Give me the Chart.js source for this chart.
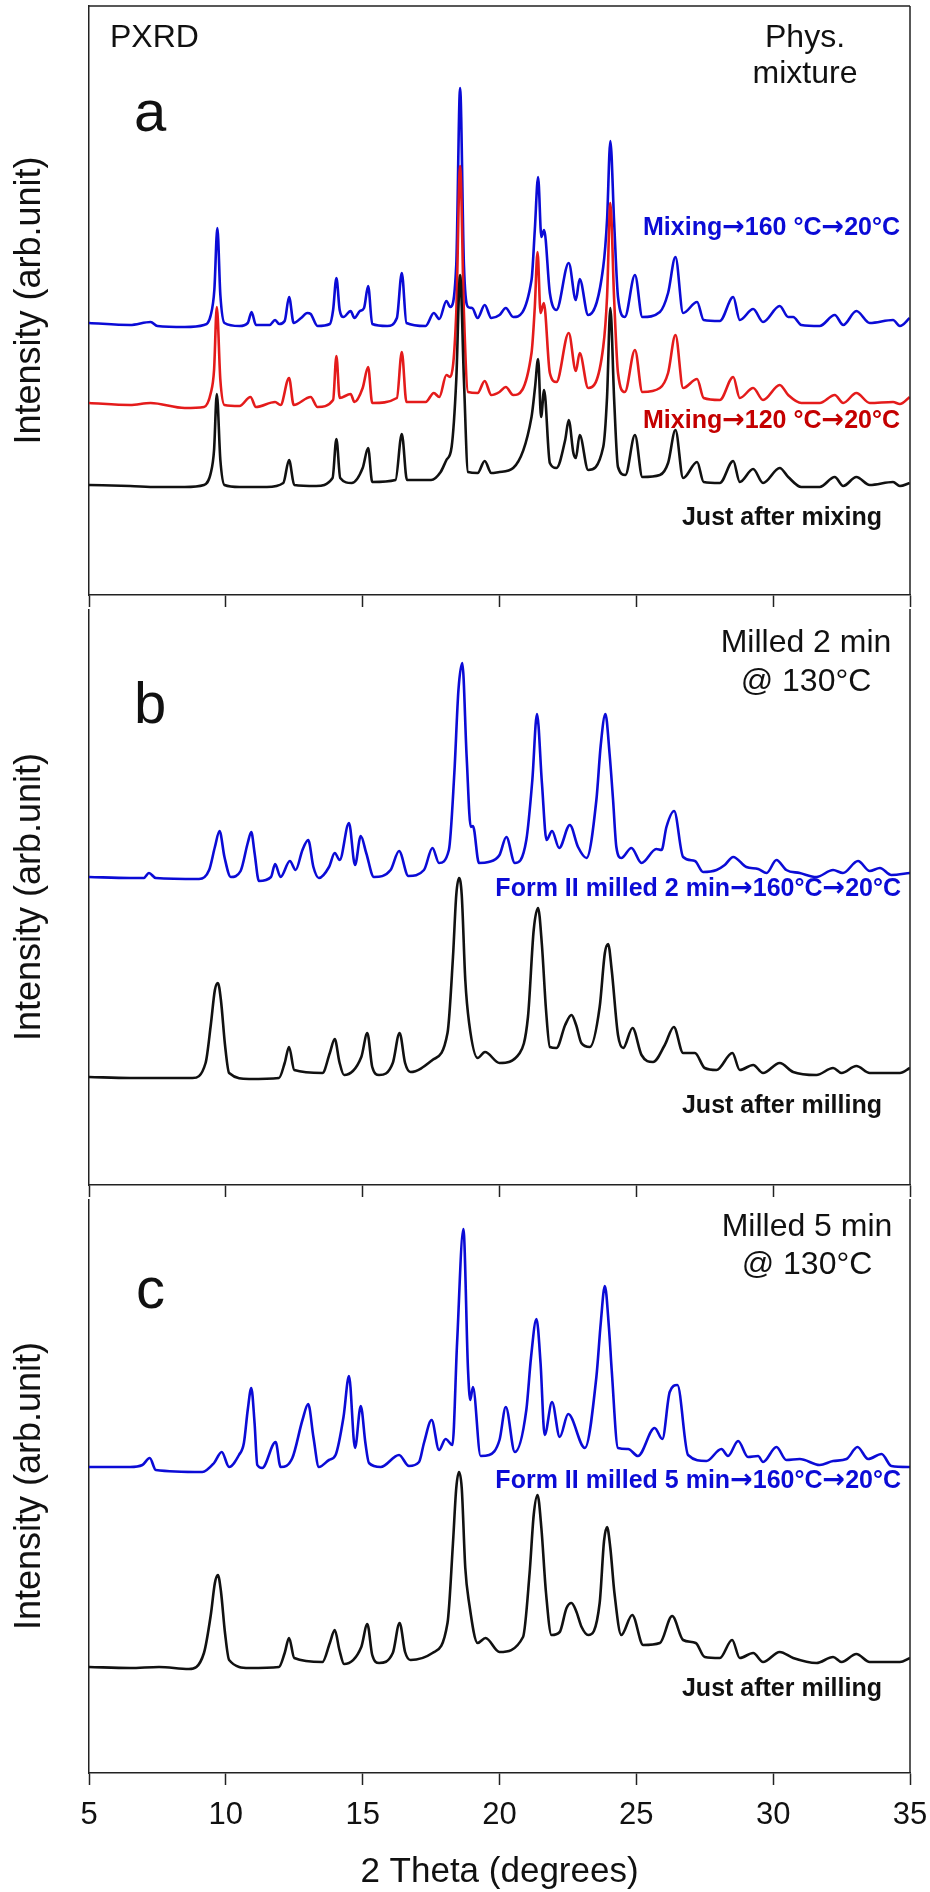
<!DOCTYPE html>
<html lang="en">
<head>
<meta charset="UTF-8">
<title>PXRD patterns</title>
<style>
  body { margin: 0; background: #fff; }
  .page { position: relative; width: 930px; height: 1892px; overflow: hidden; }
  .page canvas { position: absolute; left: 0; }
</style>
<script src="https://cdn.jsdelivr.net/npm/chart.js"></script>
</head>
<body>
<div class="page">
  <canvas id="panelA" width="930" height="609" style="top:0px"></canvas>
  <canvas id="panelB" width="930" height="590" style="top:609px"></canvas>
  <canvas id="panelC" width="930" height="693" style="top:1199px"></canvas>
</div>
<script>
// --- panel a: physical mixture (2 theta, intensity with offsets) ---
const aBlueX = [5.0, 6.5, 7.25, 7.5, 8.5, 9.2, 9.45, 9.58, 9.69, 9.8, 9.95, 10.5, 10.8, 10.94, 11.1, 11.6, 11.8, 11.95, 12.15, 12.31, 12.48, 12.75, 12.98, 13.1, 13.35, 13.8, 13.92, 14.04, 14.16, 14.3, 14.56, 14.7, 14.9, 15.05, 15.2, 15.35, 15.9, 16.25, 16.43, 16.6, 17.3, 17.6, 17.8, 18.06, 18.2, 18.42, 18.56, 18.7, 18.85, 19.0, 19.2, 19.46, 19.7, 20.0, 20.23, 20.5, 21.17, 21.29, 21.41, 21.53, 21.63, 21.84, 22.08, 22.53, 22.79, 22.93, 23.24, 23.79, 23.93, 24.05, 24.19, 24.33, 24.58, 24.95, 25.22, 25.86, 26.16, 26.43, 26.71, 27.22, 27.46, 28.05, 28.54, 28.78, 29.27, 29.63, 30.24, 30.55, 30.73, 31.03, 31.7, 32.25, 32.56, 33.04, 33.53, 34.38, 34.63, 34.99];
const aBlueY = [272, 270, 273, 269, 268, 270, 280, 305, 367, 300, 272, 269, 272, 283, 270, 270, 275, 271, 274, 298, 272, 277, 282, 281, 269, 271, 285, 317, 285, 278, 284, 277, 284, 287, 309, 271, 269, 277, 322, 272, 269, 282, 276, 294, 288, 330, 507, 330, 288, 287, 277, 290, 277, 280, 287, 278, 315, 365, 418, 358, 365, 302, 285, 332, 295, 316, 280, 328, 375, 454, 372, 298, 278, 320, 278, 283, 302, 338, 282, 293, 275, 274, 298, 275, 286, 273, 289, 278, 278, 270, 269, 280, 270, 284, 272, 275, 269, 277];

const aRedX = [5.0, 6.5, 7.25, 8.5, 9.2, 9.45, 9.57, 9.67, 9.8, 9.95, 10.5, 10.9, 11.1, 11.8, 12.0, 12.31, 12.48, 13.1, 13.35, 13.92, 14.04, 14.16, 14.56, 14.7, 15.0, 15.2, 15.35, 16.25, 16.43, 16.6, 17.3, 17.6, 17.8, 18.06, 18.2, 18.42, 18.56, 18.7, 18.85, 19.2, 19.46, 19.7, 20.0, 20.23, 20.5, 21.17, 21.29, 21.39, 21.5, 21.62, 21.84, 22.08, 22.53, 22.79, 22.93, 23.24, 23.79, 23.93, 24.05, 24.19, 24.33, 24.58, 24.95, 25.22, 25.86, 26.16, 26.43, 26.71, 27.22, 27.46, 28.05, 28.54, 28.78, 29.27, 29.63, 30.24, 30.55, 31.03, 31.7, 32.25, 32.56, 33.04, 33.53, 34.38, 34.63, 34.99];
const aRedY = [192, 190, 192, 187, 188, 202, 225, 288, 215, 190, 189, 198, 188, 193, 190, 217, 190, 198, 188, 195, 239, 197, 201, 193, 207, 228, 192, 197, 243, 193, 193, 202, 198, 220, 218, 282, 429, 282, 203, 202, 214, 200, 203, 208, 200, 242, 288, 343, 282, 292, 222, 213, 262, 224, 242, 207, 248, 298, 392, 295, 222, 203, 245, 203, 207, 222, 260, 207, 216, 197, 195, 218, 197, 207, 195, 210, 200, 192, 192, 200, 192, 202, 192, 193, 191, 198];

const aBlackX = [5.0, 6.5, 7.5, 8.5, 9.2, 9.45, 9.57, 9.67, 9.8, 9.95, 10.5, 11.5, 12.1, 12.31, 12.5, 13.3, 13.9, 14.04, 14.18, 14.6, 15.0, 15.2, 15.35, 16.2, 16.43, 16.62, 17.5, 17.85, 18.06, 18.25, 18.42, 18.56, 18.7, 18.85, 19.2, 19.46, 19.7, 20.0, 20.5, 21.17, 21.3, 21.41, 21.52, 21.63, 21.84, 22.08, 22.4, 22.53, 22.7, 22.79, 22.93, 23.24, 23.79, 23.93, 24.05, 24.19, 24.33, 24.6, 24.95, 25.22, 25.86, 26.16, 26.43, 26.71, 27.22, 27.46, 28.05, 28.54, 28.78, 29.27, 29.63, 30.24, 30.55, 31.03, 31.7, 32.25, 32.56, 33.04, 33.53, 34.38, 34.63, 34.99];
const aBlackY = [110, 109, 108, 108, 110, 122, 145, 201, 135, 110, 108, 108, 112, 135, 110, 109, 117, 156, 117, 112, 127, 147, 113, 115, 161, 115, 115, 123, 135, 148, 215, 320, 215, 123, 122, 134, 122, 123, 127, 178, 208, 236, 178, 205, 132, 127, 155, 175, 142, 137, 160, 125, 148, 198, 287, 195, 128, 120, 160, 118, 120, 132, 165, 117, 133, 113, 112, 134, 113, 126, 112, 127, 118, 108, 108, 118, 109, 118, 110, 113, 109, 112];

// --- panel b: milled 2 min ---
const bBlueX = [5.0, 6.5, 7.0, 7.19, 7.44, 9.02, 9.39, 9.6, 9.77, 9.95, 10.18, 10.54, 10.8, 10.93, 11.05, 11.21, 11.65, 11.8, 12.0, 12.34, 12.55, 12.8, 13.01, 13.2, 13.4, 13.77, 13.98, 14.16, 14.5, 14.72, 14.93, 15.13, 15.41, 16.02, 16.33, 16.67, 17.24, 17.55, 17.79, 18.15, 18.35, 18.5, 18.64, 18.8, 18.95, 19.03, 19.25, 19.6, 20.0, 20.25, 20.56, 20.98, 21.2, 21.37, 21.55, 21.72, 21.92, 22.18, 22.57, 22.87, 23.18, 23.54, 23.7, 23.87, 24.02, 24.15, 24.27, 24.45, 24.82, 25.19, 25.73, 25.92, 26.1, 26.38, 26.71, 27.14, 27.44, 27.93, 28.23, 28.54, 29.02, 29.45, 29.76, 30.12, 30.48, 30.97, 31.58, 32.19, 32.55, 33.1, 33.53, 33.9, 34.32, 35.0];
const bBlueY = [308, 307, 307, 312, 307, 306, 315, 338, 354, 328, 308, 314, 342, 353, 332, 304, 308, 321, 308, 324, 315, 335, 345, 318, 307, 318, 332, 325, 362, 320, 349, 332, 308, 315, 334, 309, 315, 337, 322, 335, 412, 495, 522, 428, 358, 359, 322, 323, 330, 348, 322, 345, 405, 471, 402, 345, 354, 337, 360, 338, 327, 385, 440, 471, 432, 385, 338, 327, 337, 322, 336, 335, 358, 374, 328, 324, 313, 315, 320, 328, 318, 316, 312, 325, 315, 312, 308, 315, 312, 324, 314, 317, 310, 312];

const bBlackX = [5.0, 6.5, 7.56, 8.78, 9.26, 9.45, 9.6, 9.71, 9.82, 9.97, 10.12, 10.85, 11.94, 12.15, 12.31, 12.5, 13.53, 13.8, 13.98, 14.15, 14.32, 14.95, 15.17, 15.35, 15.6, 16.1, 16.35, 16.55, 16.75, 17.55, 18.1, 18.3, 18.42, 18.52, 18.62, 18.75, 18.89, 19.2, 19.47, 20.0, 20.74, 21.04, 21.25, 21.41, 21.55, 21.7, 21.84, 22.08, 22.4, 22.63, 22.8, 22.99, 23.3, 23.66, 23.85, 23.97, 24.1, 24.33, 24.52, 24.86, 25.19, 25.61, 26.04, 26.37, 26.71, 27.14, 27.5, 27.93, 28.51, 28.78, 29.27, 29.63, 30.24, 30.73, 31.58, 32.19, 32.5, 33.04, 33.53, 34.63, 35.0];
const bBlackY = [108, 107, 107, 107, 122, 160, 195, 202, 185, 140, 112, 106, 107, 122, 138, 115, 112, 132, 146, 123, 110, 128, 152, 118, 110, 122, 152, 122, 113, 125, 152, 228, 290, 307, 290, 205, 162, 127, 133, 122, 132, 168, 255, 277, 240, 175, 138, 137, 160, 170, 160, 142, 138, 178, 232, 241, 215, 150, 137, 157, 130, 123, 140, 158, 132, 132, 117, 115, 132, 115, 120, 112, 122, 113, 110, 117, 112, 119, 112, 112, 117];

// --- panel c: milled 5 min ---
const cBlueX = [5.0, 6.5, 6.95, 7.22, 7.44, 9.14, 9.57, 9.85, 10.12, 10.48, 10.66, 10.8, 10.93, 11.05, 11.15, 11.33, 11.82, 12.0, 12.43, 12.8, 13.01, 13.2, 13.4, 13.77, 14.01, 14.3, 14.5, 14.72, 14.93, 15.1, 15.23, 15.66, 16.33, 16.69, 17.06, 17.24, 17.52, 17.79, 18.03, 18.28, 18.45, 18.68, 18.85, 18.93, 19.03, 19.31, 19.62, 20.0, 20.23, 20.56, 20.98, 21.15, 21.35, 21.5, 21.65, 21.92, 22.2, 22.51, 23.12, 23.54, 23.7, 23.85, 24.0, 24.1, 24.33, 24.7, 25.06, 25.67, 25.95, 26.22, 26.5, 26.89, 27.56, 28.11, 28.35, 28.72, 29.08, 29.45, 29.63, 30.12, 30.48, 30.97, 31.7, 32.19, 32.68, 33.08, 33.47, 33.96, 34.32, 35.0];
const cBlueY = [306, 306, 308, 315, 303, 301, 310, 321, 306, 318, 330, 363, 385, 350, 308, 305, 331, 306, 315, 353, 369, 336, 306, 313, 318, 356, 397, 325, 367, 330, 310, 306, 318, 307, 311, 330, 353, 323, 334, 328, 430, 544, 403, 373, 386, 317, 318, 333, 366, 321, 363, 415, 454, 410, 338, 371, 336, 359, 325, 396, 450, 487, 445, 403, 325, 324, 317, 345, 334, 381, 388, 318, 312, 324, 317, 332, 316, 317, 311, 326, 313, 314, 308, 312, 314, 326, 314, 319, 307, 306];

const cBlackX = [5.0, 6.5, 7.56, 8.65, 9.2, 9.45, 9.6, 9.71, 9.82, 9.97, 10.12, 10.85, 11.94, 12.15, 12.31, 12.5, 13.53, 13.8, 13.98, 14.15, 14.32, 14.95, 15.17, 15.35, 15.6, 16.1, 16.35, 16.55, 16.75, 17.55, 18.1, 18.3, 18.42, 18.52, 18.62, 18.75, 18.89, 19.2, 19.49, 20.0, 20.86, 21.1, 21.25, 21.39, 21.53, 21.7, 21.9, 22.2, 22.45, 22.63, 22.8, 23.0, 23.24, 23.66, 23.82, 23.93, 24.05, 24.2, 24.45, 24.85, 25.25, 25.86, 26.31, 26.71, 27.17, 27.5, 28.05, 28.5, 28.78, 29.27, 29.63, 30.24, 30.73, 31.58, 32.19, 32.5, 33.04, 33.53, 34.63, 35.0];
const cBlackY = [106, 105, 106, 104, 120, 158, 190, 198, 182, 140, 113, 105, 106, 120, 135, 115, 111, 130, 143, 123, 109, 126, 149, 118, 110, 120, 150, 121, 113, 120, 150, 230, 285, 301, 285, 205, 170, 130, 135, 121, 136, 200, 258, 278, 245, 180, 138, 141, 165, 170, 162, 146, 138, 170, 232, 246, 225, 180, 138, 158, 128, 130, 157, 133, 130, 116, 115, 133, 115, 120, 111, 121, 115, 110, 116, 111, 119, 111, 111, 115];

const BLUE = '#0b0bd6';
const RED = '#e41b1b';
const BLACK = '#111111';
const FONT = "'Liberation Sans', Arial, sans-serif";
const ARROW_FONT = "'DejaVu Sans', sans-serif";

Chart.defaults.font.family = FONT;
Chart.defaults.color = BLACK;

// text placed on the figure, in page pixels
const notes = {
    panelA: [
        { text: 'PXRD', x: 110, y: 38, align: 'left', size: 32, color: BLACK },
        { text: 'Phys.', x: 805, y: 38, align: 'center', size: 32, color: BLACK },
        { text: 'mixture', x: 805, y: 74, align: 'center', size: 32, color: BLACK },
        { text: 'a', x: 134, y: 131, align: 'left', base: 'alphabetic', size: 58, color: BLACK },
        { text: 'Mixing→160 °C→20°C', x: 900, y: 228, align: 'right', size: 25, bold: true, color: BLUE },
        { text: 'Mixing→120 °C→20°C', x: 900, y: 421, align: 'right', size: 25, bold: true, color: '#c40000' },
        { text: 'Just after mixing', x: 882, y: 518, align: 'right', size: 25, bold: true, color: BLACK }
    ],
    panelB: [
        { text: 'Milled 2 min', x: 806, y: 643, align: 'center', size: 32, color: BLACK },
        { text: '@ 130°C', x: 806, y: 682, align: 'center', size: 32, color: BLACK },
        { text: 'b', x: 134, y: 723, align: 'left', base: 'alphabetic', size: 58, color: BLACK },
        { text: 'Form II milled 2 min→160°C→20°C', x: 901, y: 889, align: 'right', size: 25, bold: true, color: BLUE },
        { text: 'Just after milling', x: 882, y: 1106, align: 'right', size: 25, bold: true, color: BLACK }
    ],
    panelC: [
        { text: 'Milled 5 min', x: 807, y: 1227, align: 'center', size: 32, color: BLACK },
        { text: '@ 130°C', x: 807, y: 1265, align: 'center', size: 32, color: BLACK },
        { text: 'c', x: 136, y: 1308, align: 'left', base: 'alphabetic', size: 58, color: BLACK },
        { text: 'Form II milled 5 min→160°C→20°C', x: 901, y: 1481, align: 'right', size: 25, bold: true, color: BLUE },
        { text: 'Just after milling', x: 882, y: 1689, align: 'right', size: 25, bold: true, color: BLACK }
    ]
};

// draws a note; arrows come from DejaVu so they are full size
function drawNote(ctx, n, y) {
    const weight = n.bold ? 'bold ' : '';
    const textFont = weight + n.size + 'px ' + FONT;
    const arrowFont = weight + (n.size + 2) + 'px ' + ARROW_FONT;
    const pieces = [];
    n.text.split('→').forEach((part, i) => {
        if (i > 0) pieces.push({ s: '→', font: arrowFont });
        if (part) pieces.push({ s: part, font: textFont });
    });
    let total = 0;
    pieces.forEach(p => { ctx.font = p.font; p.w = ctx.measureText(p.s).width; total += p.w; });
    let x = n.x;
    if (n.align === 'right') x -= total;
    if (n.align === 'center') x -= total / 2;
    ctx.fillStyle = n.color;
    ctx.textAlign = 'left';
    ctx.textBaseline = n.base || 'middle';
    pieces.forEach(p => { ctx.font = p.font; ctx.fillText(p.s, x, y); x += p.w; });
}

// right/top frame lines and the text notes
const framePlugin = {
    id: 'panelFrame',
    afterDraw(chart) {
        const ctx = chart.ctx;
        const area = chart.chartArea;
        const offset = chart.canvas.offsetTop;
        ctx.save();
        ctx.strokeStyle = '#222';
        ctx.lineWidth = 1.5;
        ctx.beginPath();
        ctx.moveTo(area.right, area.top);
        ctx.lineTo(area.right, area.bottom);
        if (chart.canvas.id === 'panelA') {
            ctx.moveTo(area.left, area.top);
            ctx.lineTo(area.right, area.top);
        }
        ctx.stroke();
        (notes[chart.canvas.id] || []).forEach(n => drawNote(ctx, n, n.y - offset));
        ctx.restore();
    }
};

function toPoints(xs, ys) {
    return xs.map((x, i) => ({ x: x, y: ys[i] }));
}

function makePanel(id, traces, yMax, padTop, showLabels, axisHeight) {
    new Chart(document.getElementById(id), {
        type: 'line',
        data: {
            datasets: traces.map(t => ({
                data: toPoints(t.x, t.y),
                borderColor: t.color,
                borderWidth: 2.6,
                pointRadius: 0,
                fill: false,
                cubicInterpolationMode: 'monotone'
            }))
        },
        options: {
            responsive: false,
            animation: false,
            devicePixelRatio: 1,
            layout: { padding: { left: 0, right: 20, top: padTop, bottom: 0 } },
            plugins: {
                legend: { display: false },
                tooltip: { enabled: false }
            },
            scales: {
                x: {
                    type: 'linear',
                    min: 5,
                    max: 35,
                    ticks: { stepSize: 5, display: showLabels, maxRotation: 0, padding: 12, font: { size: 31 }, color: BLACK },
                    grid: { drawOnChartArea: false, drawTicks: true, tickLength: 12, tickWidth: 1.5, tickColor: '#222' },
                    border: { display: true, color: '#222', width: 1.5 },
                    title: { display: showLabels, text: '2 Theta (degrees)', font: { size: 35, lineHeight: 0.8 }, padding: { top: 0, bottom: 6 }, color: BLACK },
                    afterFit: s => { s.height = axisHeight; s.paddingLeft = 0; s.paddingRight = 0; }
                },
                y: {
                    min: 0,
                    max: yMax,
                    ticks: { display: false },
                    grid: { display: false },
                    border: { display: true, color: '#222', width: 1.5 },
                    title: { display: true, text: 'Intensity (arb.unit)', font: { size: 36 }, padding: { top: 8, bottom: 0 }, color: BLACK },
                    afterFit: s => { s.width = 89; }
                }
            }
        },
        plugins: [framePlugin]
    });
}

// black first so it is drawn on top
makePanel('panelA', [
    { x: aBlackX, y: aBlackY, color: BLACK },
    { x: aRedX, y: aRedY, color: RED },
    { x: aBlueX, y: aBlueY, color: BLUE }
], 589, 6, false, 14);

makePanel('panelB', [
    { x: bBlackX, y: bBlackY, color: BLACK },
    { x: bBlueX, y: bBlueY, color: BLUE }
], 576, 0, false, 14);

makePanel('panelC', [
    { x: cBlackX, y: cBlackY, color: BLACK },
    { x: cBlueX, y: cBlueY, color: BLUE }
], 574, 0, true, 119);
</script>
</body>
</html>
